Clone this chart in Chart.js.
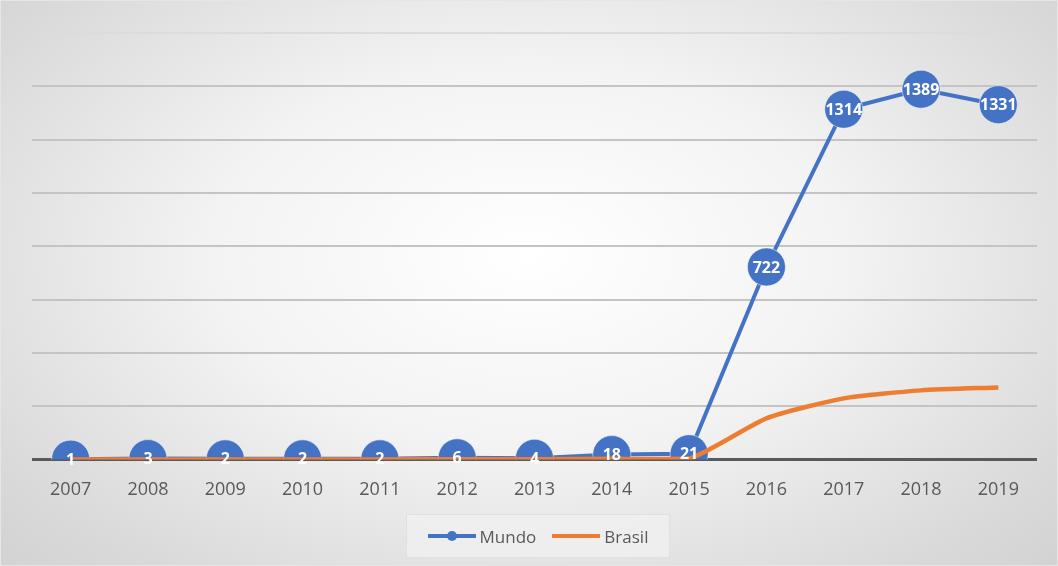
<!DOCTYPE html>
<html>
<head>
<meta charset="utf-8">
<script src="https://cdn.jsdelivr.net/npm/chart.js@4/dist/chart.umd.min.js"></script>
<style>
  html, body { margin: 0; padding: 0; }
  body { width: 1058px; height: 566px; overflow: hidden; font-family: "Open Sans", sans-serif; }
  #wrap {
    position: relative; width: 1056px; height: 564px;
    border: 1px solid #e6e6e6;
    background: radial-gradient(ellipse 75% 85% at 50% 45%, #ffffff 0%, #f3f3f3 40%, #d9d9d9 80%, #cfcfcf 100%);
  }
  #legend {
    position: absolute; left: 405px; top: 513px; width: 262px; height: 42px;
    background: rgba(240,240,240,0.8); border: 1px solid #e0e0e0;
    display: flex; align-items: center; justify-content: center; gap: 16px;
    color: #595959; font-size: 17px;
  }
  .item { display: flex; align-items: center; }
  .sw { position: relative; width: 48px; height: 4px; margin-right: 4px; }
  .dot { position: absolute; left: 19px; top: -3px; width: 10px; height: 10px; border-radius: 50%; background: #4472c4; }
</style>
</head>
<body>
<div id="wrap">
  <canvas id="chart" width="1056" height="564"></canvas>
  <div id="legend">
    <div class="item"><div class="sw" style="background:#4472c4"><div class="dot"></div></div>Mundo</div>
    <div class="item"><div class="sw" style="background:#ed7d31"></div>Brasil</div>
  </div>
</div>
<script>
const years = ['2007', '2008', '2009', '2010', '2011', '2012', '2013', '2014', '2015', '2016', '2017', '2018', '2019'];
const mundo = [1, 3, 2, 2, 2, 6, 4, 18, 21, 722, 1314, 1389, 1331];
const brasil = [0, 0, 0, 0, 0, 1, 1, 2, 3, 154, 229, 259, 270];

// white numbers on the Mundo markers
const pointLabels = {
    id: 'pointLabels',
    afterDatasetsDraw(chart) {
        const ctx = chart.ctx;
        const meta = chart.getDatasetMeta(0);
        ctx.save();
        ctx.fillStyle = '#ffffff';
        ctx.font = 'bold 16px "Open Sans", sans-serif';
        ctx.textAlign = 'center';
        ctx.textBaseline = 'middle';
        meta.data.forEach((pt, i) => {
            ctx.fillText(String(mundo[i]), pt.x, pt.y + 1);
        });
        ctx.restore();
    }
};

const ctx = document.getElementById('chart').getContext('2d');
new Chart(ctx, {
    type: 'line',
    data: {
        labels: years,
        datasets: [
            {
                label: 'Mundo',
                data: mundo,
                borderColor: '#4472c4',
                backgroundColor: '#4472c4',
                borderWidth: 4,
                pointRadius: 19,
                pointHoverRadius: 19,
                pointBackgroundColor: '#4472c4',
                pointBorderColor: 'rgba(255,255,255,0.5)',
                pointBorderWidth: 1,
                tension: 0,
                order: 2
            },
            {
                label: 'Brasil',
                data: brasil,
                borderColor: '#ed7d31',
                backgroundColor: '#ed7d31',
                borderWidth: 4.5,
                pointRadius: 0,
                tension: 0.2,
                order: 1
            }
        ]
    },
    options: {
        responsive: false,
        animation: false,
        layout: { padding: { left: 31, right: 18, top: 32, bottom: 52 } },
        plugins: { legend: { display: false }, tooltip: { enabled: false } },
        scales: {
            x: {
                offset: true,
                grid: { display: false },
                border: { display: false },
                ticks: { color: '#595959', font: { size: 18, family: '"Open Sans", sans-serif' }, padding: 12 }
            },
            y: {
                min: 0,
                max: 1600,
                ticks: { display: false, stepSize: 200 },
                border: { display: false },
                grid: {
                    drawTicks: false,
                    color: c => c.tick.value === 0 ? '#595959' : (c.tick.value === 1600 ? '#dcdcdc' : '#c4c4c4'),
                    lineWidth: c => c.tick.value === 0 ? 3 : 2
                }
            }
        }
    },
    plugins: [pointLabels]
});
</script>
</body>
</html>
